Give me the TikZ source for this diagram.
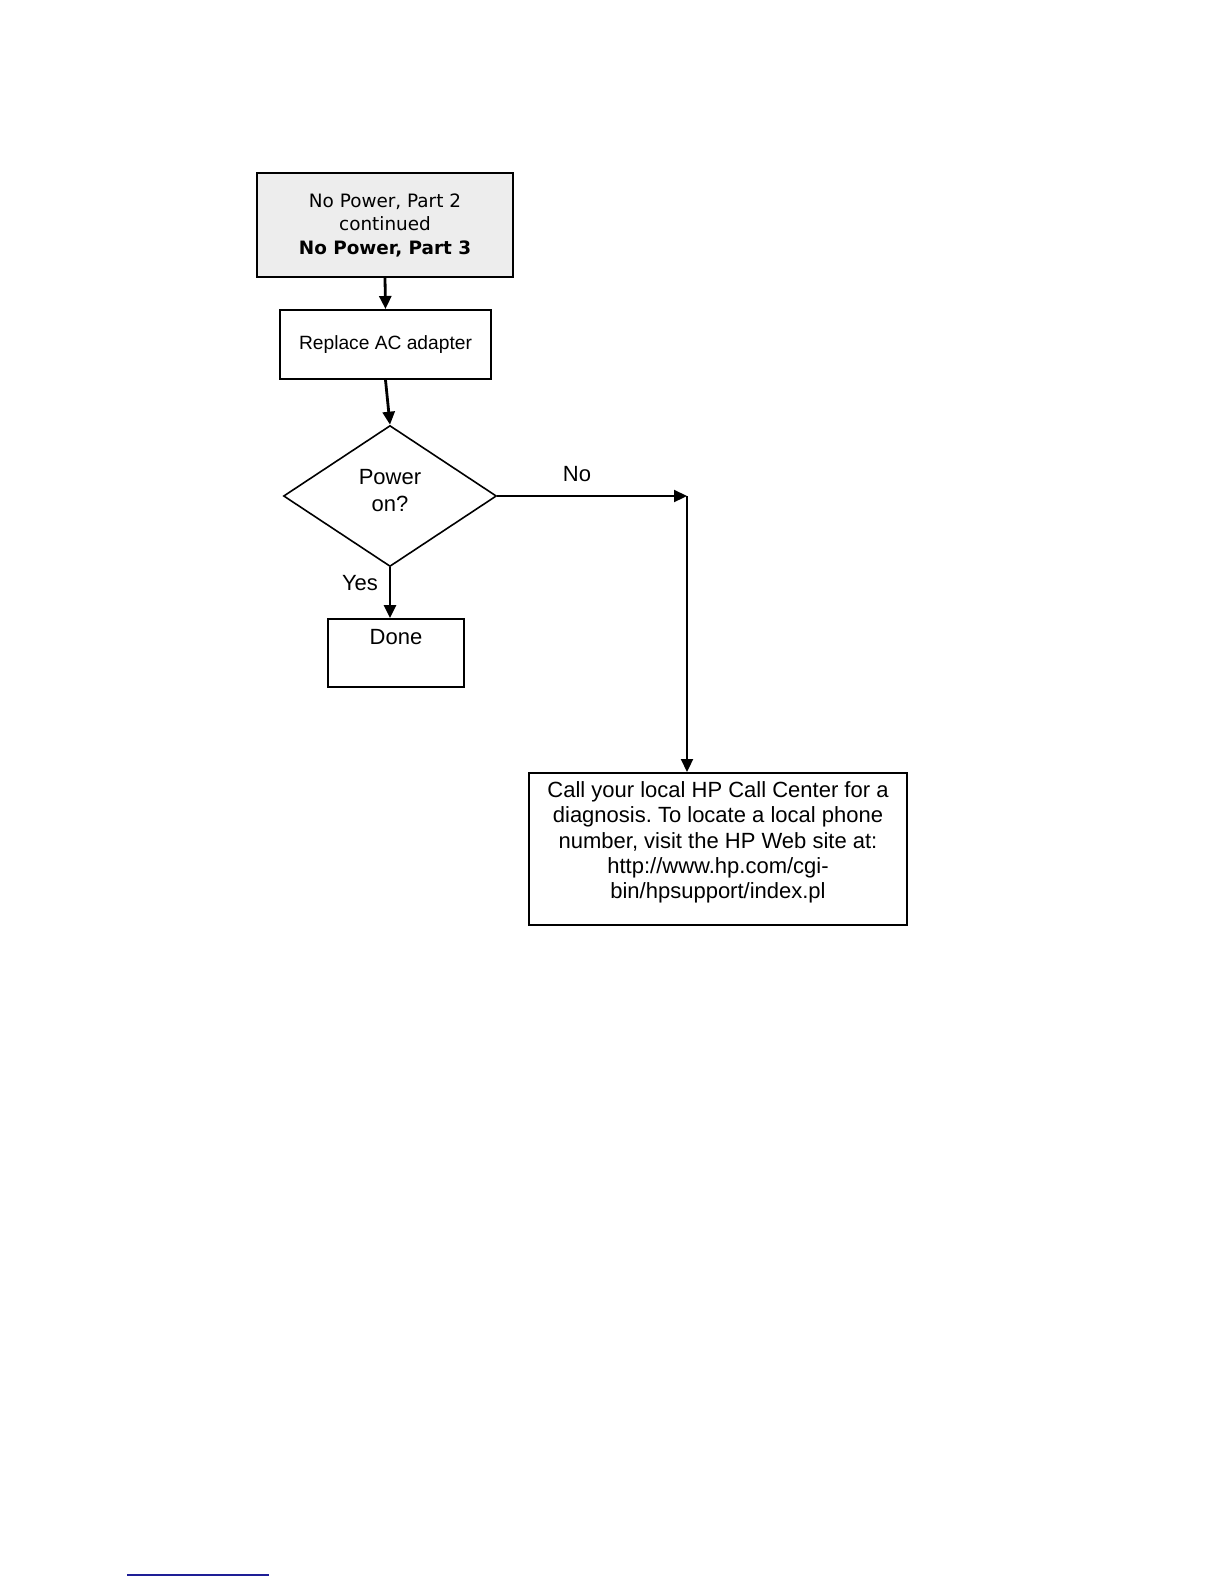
\documentclass[tikz,border=0pt]{standalone}
\usepackage{fontspec}
\setmainfont{Liberation Sans}
\newfontfamily\tahoma{DejaVu Sans}
\usetikzlibrary{arrows.meta,shapes.geometric}
\frenchspacing
\begin{document}
\begin{tikzpicture}[x=0.5pt,y=-0.5pt,
  box/.style={draw, line width=1pt, inner sep=0pt},
  arr/.style={line width=1.4pt, -{Triangle[length=6.5pt,width=6pt]}},
  lbl/.style={inner sep=0pt, font=\fontsize{11}{13.5}\selectfont, align=center}]
\useasboundingbox (0,0) rectangle (1224,1584);
% nodes
\node[box, fill=black!7, minimum width=128pt, minimum height=52pt,
      align=center, font=\tahoma\fontsize{9.2}{11.75}\selectfont] (top) at (385,225)
      {No Power, Part 2\\continued\\\textbf{No Power, Part 3}};
\node[box, minimum width=105.5pt, minimum height=34.5pt,
      font=\fontsize{9.6}{11}\selectfont] (rep) at (385.5,344.5) {Replace AC adapter};
\node[draw, line width=0.8pt, diamond, minimum width=106.5pt, minimum height=70.5pt,
      inner sep=0pt] (dia) at (390,496) {};
\node[lbl] (diat) at (390,491) {Power\\on?};
\node[box, minimum width=68pt, minimum height=34pt] (done) at (396,653) {};
\node[lbl] (donet) at (396,637) {Done};
\node[box, minimum width=189pt, minimum height=76pt] (call) at (718,849) {};
\node[inner sep=0pt, align=center, font=\fontsize{11}{12.6}\selectfont] (callt) at (718,842.5)
  {Call your local HP Call Center for a\\diagnosis. To locate a local phone\\number, visit the HP Web site at:\\http://www.hp.com/cgi-\\bin/hpsupport/index.pl};
\coordinate (turn) at (687,496);
\node[lbl] (no) at (577,474) {No};
\node[lbl] (yes) at (360,583) {Yes};
% connectors
\draw[arr] (top.south) -- (rep.north);
\draw[arr] (rep.south) -- (dia.north);
\draw[arr, line width=1.1pt] (dia.east) -- (turn);
\draw[arr, line width=1.1pt] (turn) -- (call.north -| turn);
\draw[arr] (dia.south) -- (done.north -| dia.south);
% footer rule
\coordinate (fl) at (127,1575);
\coordinate (fr) at (269,1575);
\draw[color={rgb,255:red,30;green,30;blue,150}, line width=0.8pt] (fl) -- (fr);
\end{tikzpicture}
\end{document}
